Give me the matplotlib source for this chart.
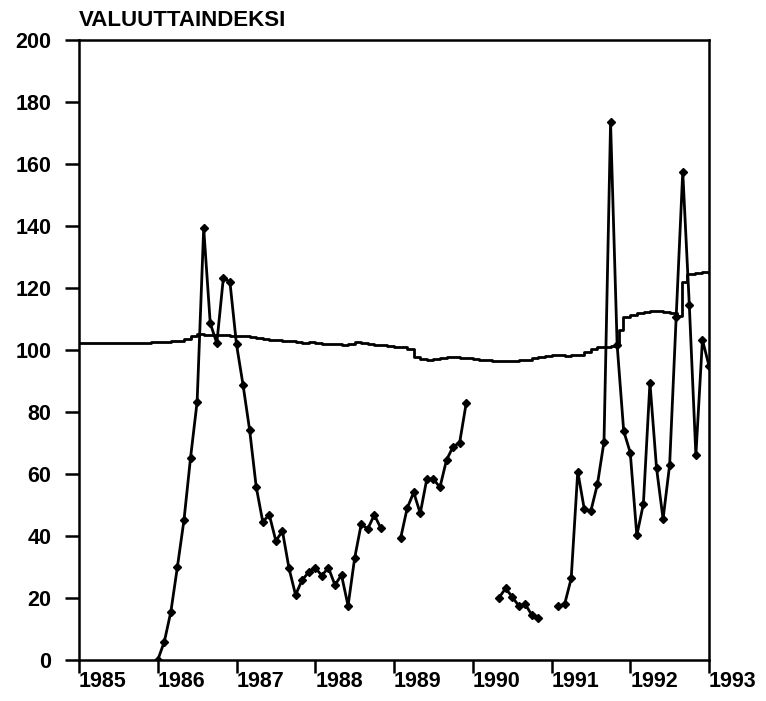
import numpy as np
import matplotlib

matplotlib.use("Agg")
import matplotlib.pyplot as plt

plt.rcParams["font.family"] = ["Liberation Sans", "DejaVu Sans"]

title = "VALUUTTAINDEKSI"
years = [1985, 1986, 1987, 1988, 1989, 1990, 1991, 1992, 1993]
y_ticks = [0, 20, 40, 60, 80, 100, 120, 140, 160, 180, 200]

# valuuttaindeksi, kuukausittain tammikuusta 1985
index_start = 1985
index_monthly = [
    102.4, 102.4, 102.4, 102.4, 102.3, 102.3, 102.3, 102.3, 102.3, 102.4, 102.4, 102.5,
    102.5, 102.6, 103.0, 102.8, 103.5, 104.6, 105.1, 105.0, 104.9, 104.8, 104.7, 104.6,
    104.5, 104.4, 104.1, 103.9, 103.6, 103.3, 103.1, 102.9, 102.8, 102.5, 102.4, 102.7,
    102.2, 102.0, 101.9, 101.8, 101.6, 101.9, 102.6, 102.4, 102.0, 101.7, 101.5, 101.2,
    101.0, 100.9, 100.4, 97.6, 97.0, 96.8, 97.1, 97.4, 97.8, 97.6, 97.3, 97.5,
    97.0, 96.8, 96.7, 96.6, 96.5, 96.6, 96.6, 96.8, 96.9, 97.3, 97.7, 98.0,
    98.4, 98.3, 98.2, 98.3, 98.5, 99.2, 100.3, 100.9, 101.1, 101.4, 101.6,
]
# devalvaatioiden jälkeiset portaat (vuosi desimaaleina)
index_tail_t = [1991.86, 1991.91, 1992.0, 1992.09, 1992.17, 1992.25, 1992.34, 1992.42,
                1992.5, 1992.59, 1992.66, 1992.725, 1992.82, 1992.91, 1993.0]
index_tail_v = [106.5, 110.7, 111.3, 111.8, 112.3, 112.7, 112.7, 112.4,
                111.8, 111.0, 122.0, 124.6, 125.0, 125.3, 124.8]

# toinen sarja, kuukausittain tammikuusta 1986 (nan = puuttuu)
series_start = 1986
series_vals = [
    0.0, 5.9, 15.6, 30.1, 45.2, 65.3, 83.3, 139.3, 108.6, 102.2, 123.3, 121.9,
    101.8, 88.7, 74.2, 55.9, 44.6, 46.8, 38.4, 41.6, 29.6, 21.0, 25.8, 28.3,
    29.8, 27.2, 29.8, 24.2, 27.4, 17.5, 32.8, 43.8, 42.3, 46.8, 42.5, np.nan,
    np.nan, 39.2, 48.9, 54.1, 47.3, 58.4, 58.4, 55.7, 64.5, 68.8, 70.1, 82.8,
    np.nan, np.nan, np.nan, np.nan, 20.1, 23.1, 20.4, 17.5, 18.0, 14.5, 13.7, np.nan,
    np.nan, 17.4, 18.0, 26.3, 60.8, 48.6, 48.1, 56.7, 70.4, 173.4, 101.7, 73.9,
    66.9, 40.2, 50.3, 89.5, 62.0, 45.5, 62.9, 110.7, 157.5, 114.5, 66.0, 103.3,
    94.9,
]

idx_t = np.concatenate([index_start + np.arange(len(index_monthly)) / 12, index_tail_t])
idx_v = np.concatenate([index_monthly, index_tail_v])
ser_t = series_start + np.arange(len(series_vals)) / 12

fig = plt.figure(figsize=(7.66, 7.01), dpi=100)
ax = fig.add_axes([79 / 766, 1 - 660 / 701, 630 / 766, 620 / 701])

ax.step(idx_t, idx_v, where="post", color="black", linewidth=2.0)
ax.plot(ser_t, series_vals, color="black", linewidth=2.0, marker="D", markersize=4.5)

ax.set_xlim(1985, 1993)
ax.set_ylim(0, 200)
ax.set_xticks(years)
ax.set_xticklabels([str(y) for y in years], ha="left")
ax.set_yticks(y_ticks)
ax.tick_params(axis="y", direction="out", length=10, width=1.8, pad=10, labelsize=15.5)
ax.tick_params(axis="x", direction="out", length=9.5, width=1.8, pad=-1.5, labelsize=15.5)
for lab in ax.get_xticklabels() + ax.get_yticklabels():
    lab.set_fontweight("bold")
for sp in ax.spines.values():
    sp.set_linewidth(1.8)

ax.text(0, 1.015, title, transform=ax.transAxes, ha="left", va="bottom",
        fontsize=16, fontweight="bold")

fig.savefig("out.png", dpi=100)
